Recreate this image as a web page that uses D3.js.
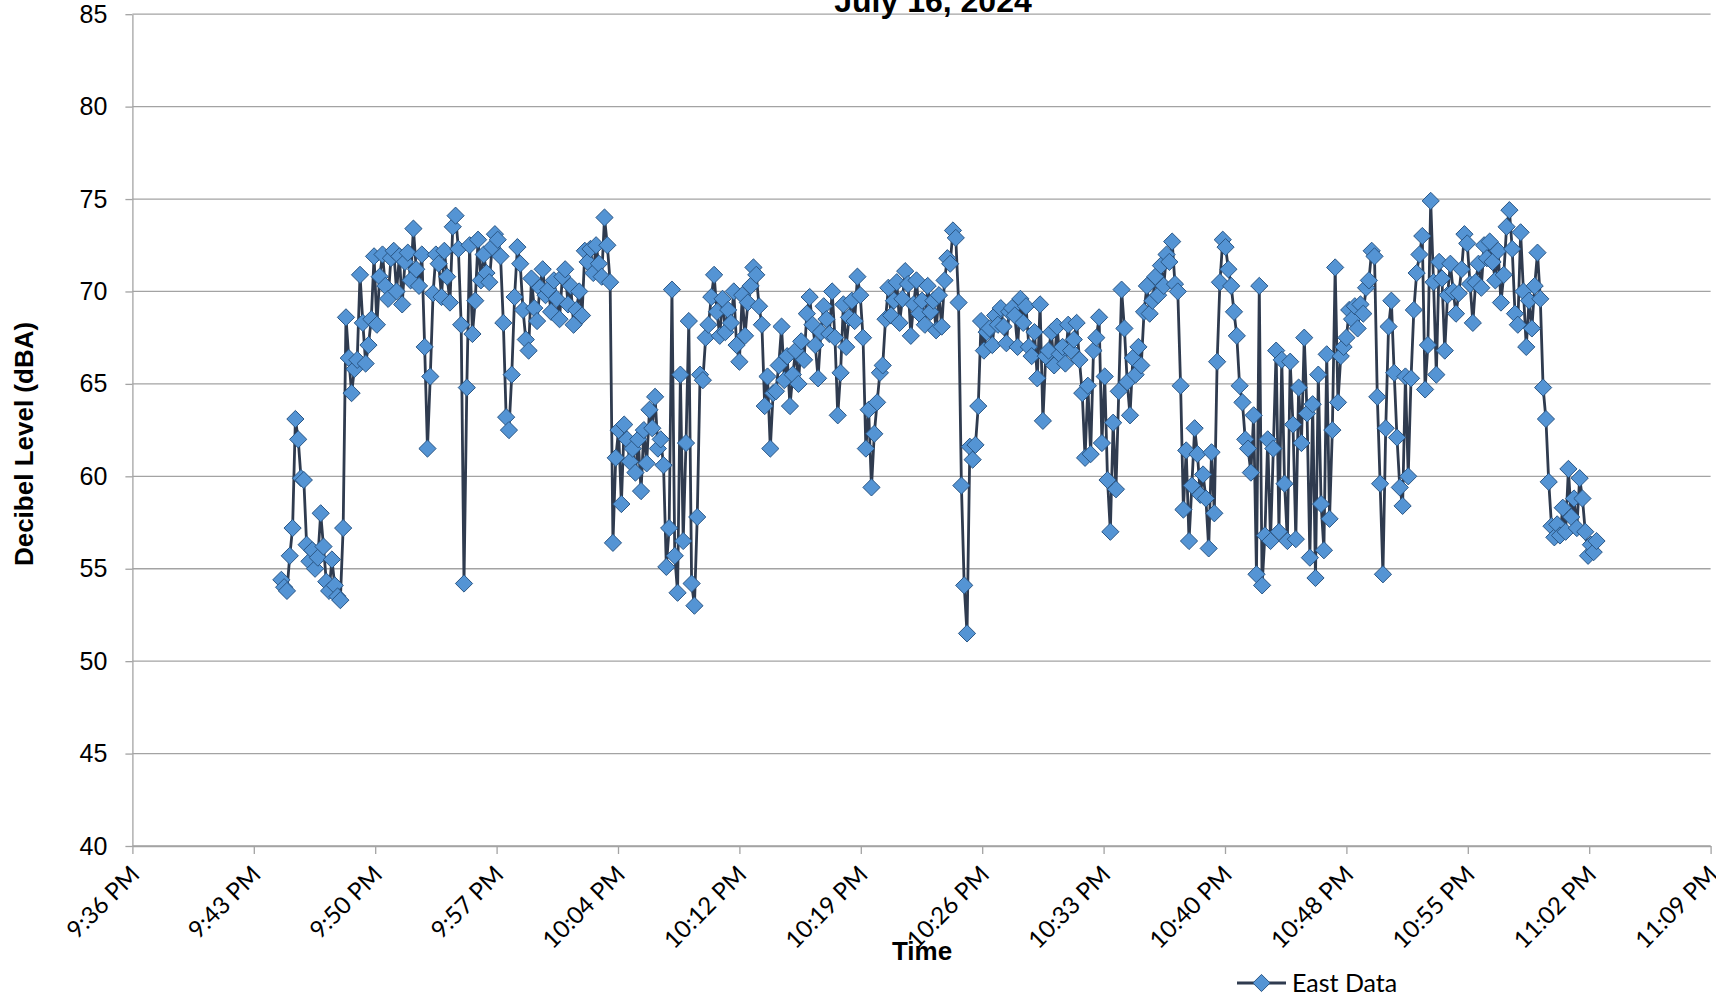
<!DOCTYPE html>
<html>
<head>
<meta charset="utf-8">
<style type="text/css">
  body {
    margin: 0;
    background: white;
  }
  svg { display: block; }
</style>
</head>
<body>

<script src="https://cdn.jsdelivr.net/npm/d3@7"></script>

<div id="chart"></div>

<script>

var chartTitle = "July 16, 2024";
var xTitle = "Time";
var yTitle = "Decibel Level (dBA)";
var seriesName = "East Data";

var yTicks = [40, 45, 50, 55, 60, 65, 70, 75, 80, 85];
var xTickLabels = ["9:36 PM", "9:43 PM", "9:50 PM", "9:57 PM", "10:04 PM", "10:12 PM", "10:19 PM",
  "10:26 PM", "10:33 PM", "10:40 PM", "10:48 PM", "10:55 PM", "11:02 PM", "11:09 PM"];

// one reading every 10 seconds, starting 9:44:50 PM
var firstReading = new Date(2024, 6, 16, 21, 44, 50);
var readingStep = 10;

var dbaValues = [
  // 9:44 - 9:50
  54.4, 54.0, 53.8, 55.7, 57.2, 63.1, 62.0, 59.9, 59.8, 56.3, 55.4, 56.0, 55.0, 55.6, 58.0, 56.2, 54.3,
  53.8, 55.5, 54.1, 53.5, 53.3, 57.2, 68.6, 66.4, 64.5, 65.8, 66.3, 70.9, 68.3, 66.1, 67.1, 68.5, 71.9,
  // 9:50 - 9:57
  68.2, 70.8, 72.0, 70.3, 69.6, 71.8, 72.2, 70.0, 71.9, 69.3, 71.6, 72.1, 70.6, 73.4, 71.2, 70.3, 72.0,
  67.0, 61.5, 65.4, 69.9, 72.0, 71.5, 69.7, 72.2, 70.8, 69.4, 73.5, 74.1, 72.3, 68.2, 54.2, 64.8, 72.5,
  67.7, 69.5, 72.8, 70.6, 72.0, 71.0, 70.5, 72.4, 73.1,
  // 9:57 - 10:04
  72.8, 71.9, 68.3, 63.2, 62.5, 65.5, 69.7, 72.4, 71.5, 69.0, 67.4, 66.8, 70.7, 69.1, 68.4, 70.2, 71.2,
  69.8, 70.1, 68.9, 70.6, 69.6, 68.5, 70.8, 71.2, 69.3, 70.3, 68.2, 69.0, 70.0, 68.7, 72.2, 71.6, 72.3,
  71.0, 72.5, 71.5, 70.8, 74.0, 72.5, 70.5, 56.4, 61.0,
  // 10:04 - 10:12
  62.5, 58.5, 62.8, 62.0, 60.8, 61.5, 60.2, 62.0, 59.2, 62.5, 60.7, 63.6, 62.6, 64.3, 61.5, 62.0, 60.6,
  55.1, 57.2, 70.1, 55.7, 53.7, 65.5, 56.5, 61.8, 68.4, 54.2, 53.0, 57.8, 65.5, 65.2, 67.5, 68.2, 69.7,
  70.9, 68.9, 67.6, 69.6, 67.8, 69.0, 68.3, 70.0, 67.1,
  // 10:12 - 10:19
  66.2, 69.8, 67.6, 69.4, 70.3, 71.3, 70.9, 69.2, 68.2, 63.8, 65.4, 61.5, 64.5, 64.6, 66.0, 68.1, 65.2,
  66.5, 63.8, 65.5, 66.8, 65.0, 67.3, 66.3, 68.8, 69.7, 68.2, 67.1, 65.3, 67.8, 69.2, 68.5, 67.7, 70.0,
  67.5, 63.3, 65.6, 69.3, 67.0, 68.6, 69.5, 68.4, 70.8,
  // 10:19 - 10:26
  69.8, 67.5, 61.5, 63.6, 59.4, 62.3, 64.0, 65.6, 66.0, 68.5, 70.2, 68.7, 69.5, 70.5, 68.3, 69.6, 71.1,
  70.4, 67.6, 69.3, 70.6, 68.8, 69.5, 68.2, 70.3, 68.9, 69.5, 67.9, 69.8, 68.1, 70.6, 71.8, 71.5, 73.3,
  72.9, 69.4, 59.5, 54.1, 51.5, 61.6, 60.9, 61.7, 63.8,
  // 10:26 - 10:33
  68.4, 66.8, 67.8, 68.0, 67.1, 68.7, 68.2, 69.1, 68.1, 67.2, 68.9, 69.1, 68.7, 67.0, 69.6, 68.3, 69.2,
  67.0, 66.5, 67.8, 65.3, 69.3, 63.0, 66.5, 66.8, 67.8, 66.0, 68.1, 66.6, 67.0, 66.1, 68.2, 66.8, 67.4,
  68.3, 66.3, 64.5, 61.0, 64.9, 61.2, 66.8, 67.5, 68.6, 61.8,
  // 10:33 - 10:40
  65.4, 59.8, 57.0, 62.9, 59.3, 64.6, 70.1, 68.0, 65.1, 63.3, 66.4, 65.5, 67.0, 66.0, 68.9, 70.3, 68.8,
  69.5, 70.8, 69.8, 71.4, 70.3, 72.0, 71.6, 72.7, 70.4, 70.0, 64.9, 58.2, 61.4, 56.5, 59.5, 62.6, 61.2,
  59.0, 60.1, 58.8, 56.1, 61.3, 58.0, 66.2, 70.5, 72.8,
  // 10:40 - 10:48
  72.4, 71.2, 70.3, 68.9, 67.6, 64.9, 64.0, 62.0, 61.5, 60.2, 63.3, 54.7, 70.3, 54.1, 56.8, 62.0, 56.5,
  61.5, 66.8, 57.0, 66.3, 59.6, 56.5, 66.2, 62.8, 56.6, 64.8, 61.8, 67.5, 63.4, 55.6, 63.9, 54.5, 65.5,
  58.5, 56.0, 66.6, 57.7, 62.5, 71.3, 64.0, 66.5, 67.0,
  // 10:48 - 10:55
  67.5, 69.0, 68.5, 69.2, 68.0, 69.3, 68.8, 70.2, 70.6, 72.2, 71.9, 64.3, 59.6, 54.7, 62.6, 68.1, 69.5,
  65.6, 62.1, 59.4, 58.4, 65.4, 60.0, 65.3, 69.0, 71.0, 72.0, 73.0, 64.7, 67.1, 74.9, 70.5, 65.5, 71.6,
  70.7, 66.8, 69.8, 71.5, 70.0, 68.8, 69.9, 71.2, 73.1,
  // 10:55 - 11:03
  72.6, 70.4, 68.3, 70.5, 71.5, 70.2, 72.5, 71.8, 72.7, 71.6, 70.6, 72.2, 69.4, 70.9, 73.5, 74.4, 72.3,
  68.8, 68.2, 73.2, 70.0, 67.0, 69.5, 68.0, 70.3, 72.1, 69.6, 64.8, 63.1, 59.7, 57.3, 56.7, 57.4, 56.8,
  58.3, 57.0, 60.4, 57.8, 58.8, 57.2, 59.9, 58.8, 57.0, 55.7, 56.3, 55.9, 56.5
];

var width = 1716;
var height = 1004;

var plotLeft = 132.4, plotRight = 1710.6, plotTop = 14.2, plotBottom = 846;

var gridColor = "#a3a3a3";
var lineColor = "#2f3b4f";
var markerFill = "#5494d4";
var markerStroke = "#2a5685";

// excel axis: 0.900 to 0.965 days, major unit 0.005 day (7.2 min)
var axisStart = new Date(2024, 6, 16, 21, 36, 0);
var majorUnit = 7.2 * 60 * 1000;
var xTickValues = xTickLabels.map(function(d, i) { return new Date(axisStart.getTime() + i * majorUnit); });
var axisEnd = xTickValues[xTickValues.length - 1];

var readings = dbaValues.map(function(v, i) {
  return { time: new Date(firstReading.getTime() + i * readingStep * 1000), value: v };
});

var svg = d3.select("#chart").append("svg")
  .attr("width", width)
  .attr("height", height);

var x = d3.scaleTime().domain([axisStart, axisEnd]).range([plotLeft, plotRight]);
var y = d3.scaleLinear().domain([40, 85]).range([plotBottom, plotTop]);

// gridlines
svg.append("g")
  .selectAll("line")
  .data(yTicks)
  .enter()
  .append("line")
  .attr("x1", plotLeft)
  .attr("x2", plotRight)
  .attr("y1", function(d) { return y(d); })
  .attr("y2", function(d) { return y(d); })
  .attr("stroke", gridColor)
  .attr("stroke-width", 1.3);

// title (top of it runs off the picture, as in the original)
svg.append("text")
  .attr("x", 933)
  .attr("y", 11.5)
  .attr("text-anchor", "middle")
  .attr("font-family", "'Liberation Sans', Arial, sans-serif")
  .attr("font-weight", "bold")
  .attr("font-size", 32)
  .text(chartTitle);

var yAxis = svg.append("g")
  .attr("transform", "translate(" + plotLeft + ",0)")
  .call(d3.axisLeft(y).tickValues(yTicks).tickSize(7).tickSizeOuter(0).tickPadding(18));

yAxis.select(".domain").attr("stroke", gridColor).attr("stroke-width", 1.3);
yAxis.selectAll(".tick line").attr("stroke", gridColor).attr("stroke-width", 1.3);
yAxis.selectAll(".tick text")
  .attr("fill", "#000")
  .attr("font-family", "'Liberation Sans', Arial, sans-serif")
  .attr("font-size", 25);

var xAxis = svg.append("g")
  .attr("transform", "translate(0," + plotBottom + ")")
  .call(d3.axisBottom(x).tickValues(xTickValues).tickSize(8).tickSizeOuter(0)
    .tickFormat(function(d, i) { return xTickLabels[i]; }));

xAxis.select(".domain").attr("stroke", gridColor).attr("stroke-width", 1.3);
xAxis.selectAll(".tick line").attr("stroke", gridColor).attr("stroke-width", 1.3);
xAxis.selectAll(".tick text")
  .attr("x", 0)
  .attr("y", 0)
  .attr("dy", 0)
  .attr("text-anchor", "end")
  .attr("transform", "translate(8,30) rotate(-45)")
  .attr("fill", "#000")
  .attr("font-family", "Lato, 'Open Sans', sans-serif")
  .attr("font-size", 24);

// series line
var line = d3.line()
  .x(function(d) { return x(d.time); })
  .y(function(d) { return y(d.value); });

svg.append("path")
  .datum(readings)
  .attr("d", line)
  .attr("fill", "none")
  .attr("stroke", lineColor)
  .attr("stroke-width", 2.8)
  .attr("stroke-linejoin", "round");

var diamond = "M0,-8.6L8.6,0L0,8.6L-8.6,0Z";

svg.append("g")
  .selectAll("path")
  .data(readings)
  .enter()
  .append("path")
  .attr("d", diamond)
  .attr("transform", function(d) { return "translate(" + x(d.time) + "," + y(d.value) + ")"; })
  .attr("fill", markerFill)
  .attr("stroke", markerStroke)
  .attr("stroke-width", 1);

// axis titles
svg.append("text")
  .attr("x", 922)
  .attr("y", 960)
  .attr("text-anchor", "middle")
  .attr("font-family", "'Liberation Sans', Arial, sans-serif")
  .attr("font-weight", "bold")
  .attr("font-size", 26)
  .text(xTitle);

svg.append("text")
  .attr("transform", "translate(33,444) rotate(-90)")
  .attr("text-anchor", "middle")
  .attr("font-family", "'Liberation Sans', Arial, sans-serif")
  .attr("font-weight", "bold")
  .attr("font-size", 26)
  .text(yTitle);

// legend
var legend = svg.append("g").attr("transform", "translate(1237,983)");

legend.append("line")
  .attr("x1", 0)
  .attr("x2", 49)
  .attr("stroke", lineColor)
  .attr("stroke-width", 2.8);

legend.append("path")
  .attr("d", diamond)
  .attr("transform", "translate(24.5,0)")
  .attr("fill", markerFill)
  .attr("stroke", markerStroke)
  .attr("stroke-width", 1);

legend.append("text")
  .attr("x", 55)
  .attr("dy", "0.36em")
  .attr("font-family", "Lato, 'Open Sans', sans-serif")
  .attr("font-size", 25)
  .text(seriesName);

</script>

</body>
</html>
